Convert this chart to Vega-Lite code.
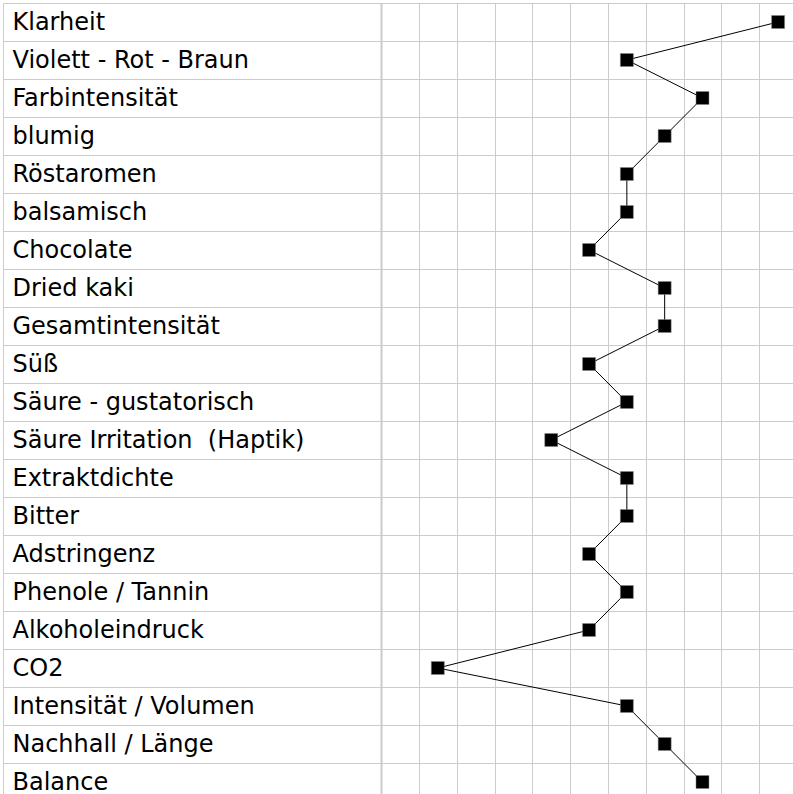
{
  "$schema": "https://vega.github.io/schema/vega-lite/v6.json",
  "width": 794,
  "height": 798,
  "autosize": "none",
  "padding": {"left": 3, "top": 3, "right": 0, "bottom": 0},
  "background": "white",
  "config": {"view": {"stroke": null}},
  "data": {
    "values": [
      {"i": 1, "Merkmal": "Klarheit", "Wert": 11},
      {"i": 2, "Merkmal": "Violett - Rot - Braun", "Wert": 7},
      {"i": 3, "Merkmal": "Farbintensität", "Wert": 9},
      {"i": 4, "Merkmal": "blumig", "Wert": 8},
      {"i": 5, "Merkmal": "Röstaromen", "Wert": 7},
      {"i": 6, "Merkmal": "balsamisch", "Wert": 7},
      {"i": 7, "Merkmal": "Chocolate", "Wert": 6},
      {"i": 8, "Merkmal": "Dried kaki", "Wert": 8},
      {"i": 9, "Merkmal": "Gesamtintensität", "Wert": 8},
      {"i": 10, "Merkmal": "Süß", "Wert": 6},
      {"i": 11, "Merkmal": "Säure - gustatorisch", "Wert": 7},
      {"i": 12, "Merkmal": "Säure Irritation \u00a0(Haptik)", "Wert": 5},
      {"i": 13, "Merkmal": "Extraktdichte", "Wert": 7},
      {"i": 14, "Merkmal": "Bitter", "Wert": 7},
      {"i": 15, "Merkmal": "Adstringenz", "Wert": 6},
      {"i": 16, "Merkmal": "Phenole / Tannin", "Wert": 7},
      {"i": 17, "Merkmal": "Alkoholeindruck", "Wert": 6},
      {"i": 18, "Merkmal": "CO2", "Wert": 2},
      {"i": 19, "Merkmal": "Intensität / Volumen", "Wert": 7},
      {"i": 20, "Merkmal": "Nachhall / Länge", "Wert": 8},
      {"i": 21, "Merkmal": "Balance", "Wert": 9}
    ]
  },
  "encoding": {
    "y": {
      "field": "Merkmal",
      "type": "nominal",
      "sort": null,
      "scale": {"paddingInner": 0, "paddingOuter": 0},
      "axis": {
        "title": null,
        "orient": "left",
        "ticks": false,
        "domain": false,
        "grid": true,
        "tickBand": "extent",
        "gridColor": "#cccccc",
        "gridWidth": 1,
        "labelAlign": "left",
        "labelPadding": -9,
        "labelFont": "DejaVu Sans",
        "labelFontSize": 24,
        "labelColor": "black",
        "labelLimit": 0,
        "labelBaseline": "middle"
      }
    },
    "x": {
      "field": "Wert",
      "type": "quantitative",
      "scale": {"domain": [-9.5, 11.5], "nice": false, "zero": false},
      "axis": {
        "orient": "top",
        "values": [-9.5, 0.5, 1.5, 2.5, 3.5, 4.5, 5.5, 6.5, 7.5, 8.5, 9.5, 10.5],
        "title": null,
        "labels": false,
        "ticks": false,
        "domain": false,
        "grid": true,
        "gridColor": "#cccccc",
        "gridWidth": {"condition": {"test": "datum.value == 0.5", "value": 2}, "value": 1}
      }
    }
  },
  "layer": [
    {
      "mark": {"type": "line", "color": "black", "strokeWidth": 1},
      "encoding": {"order": {"field": "i", "type": "quantitative"}}
    },
    {
      "mark": {"type": "point", "shape": "square", "filled": true, "size": 169, "color": "black", "opacity": 1, "stroke": "#888888", "strokeWidth": 0.5}
    }
  ]
}
